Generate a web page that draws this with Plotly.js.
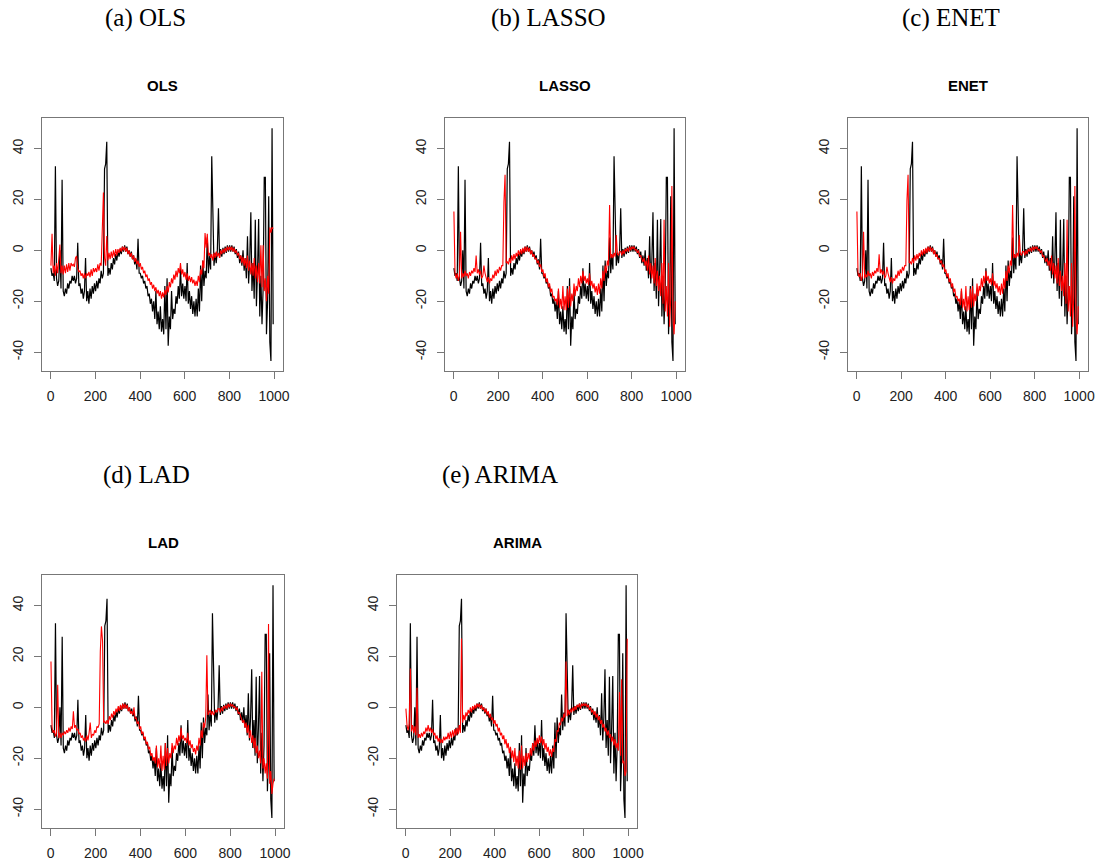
<!DOCTYPE html>
<html>
<head>
<meta charset="utf-8">
<script src="https://cdn.plot.ly/plotly-3.0.1.min.js"></script>
<style>html,body{margin:0;padding:0;background:#fff;}#chart{width:1099px;height:865px;}</style>
</head>
<body>
<div id="chart"></div>
<script>
// Observed series (black), sampled every 5 time steps starting at t = 1
const observed = [
  -7, -10, -9, -12, 33, -11, -14, -12, 0, -15,
  27.7, -16, -18, -15, -17, -13, -15, -12, -13, -10,
  -12, -10, -13, -11, 3, -14, -13, -17, -15, -19,
  -16, -3, -20, -16, -21, -15, -19, -14, -17, -13,
  -16, -12, -15, -11, -13, -8, -11, -9, 32, 34,
  42.7, -10, -7, -9.5, -5, -7.5, -3, -5.5, -1.5, -4,
  -0.5, -2.5, 0.5, -1.5, 1.5, -0.5, 2, -0.5, 1.5, -1.5,
  0, -2.5, -0.5, -3.5, -2, -5.5, -3.5, -7.5, 4.6, -9,
  -9, -11, -10, -13, -12, -15, -14, -18, -17, -21,
  -19, -24, -20, -27, -16, -29, -24, -31, -22, -32,
  -27, -33, -14, -31, -11, -37.5, -26, -31, -16, -27,
  -23, -25, -18, -21, -14, -19, -7, -18, -13, -19,
  -14, -20, -5, -21, -16, -23, -18, -25, -20, -26,
  -19, -26, -15, -24, -6, -20, -4, -14, -8, -11,
  5, -9, -2, -7.5, 37, 13.6, -6, -1, -5, 0,
  16.5, -3, 0.5, -2.5, 1, -1.5, 1.5, -1, 2, -0.5,
  2, -0.5, 2, -0.5, 1.5, -1.5, 0.5, -3, -0.5, -5,
  -2, -6, 0, -8, -3, -11, 5.5, -13, -4, 15,
  -16, -5, -19, 12, -22, -8, 12.3, -26, -10, -29,
  -15, 28.7, 28.7, -33, -20, 21.3, -36, -43.5, 48, -29
];

// Fitted series (red) per model, same sampling
const fitOLS = [
  -6, 6.5, -9, -6, -10, -5, -9, -4.5, 2.3, -9,
  -6, -9.5, -6, -9, -5.5, -8.5, -5, -8, -5, -6,
  -5.5, -6.5, -3, -2.2, -7, -8.5, -8, -10, -9, -11,
  -9, -11, -9, -10, -8.5, -10.5, -7.5, -10, -7, -8.5,
  -7, -8.5, -5.5, -8, -5, -6, 9, 22.7, -3, -6,
  5.6, -4, -1, -3.5, -0.5, -3, 0, -2.5, 0.5, -2,
  0.5, -1, 1, -0.5, 1.5, 0, 1.5, -0.5, 1, -1.5,
  0, -2.5, -1, -3.5, -2, -4.5, -3, -5.5, -4, -6.5,
  -5, -7.5, -6.5, -9, -8, -10.5, -9.5, -12, -11, -13.5,
  -12.5, -15, -13.5, -16, -14.5, -17, -15.5, -18, -16, -19,
  -16.5, -18.5, -15.5, -17.5, -14, -16.5, -12.5, -14.5, -11, -13,
  -9.5, -11.5, -8, -10.5, -7, -9, -5, -9.5, -7.5, -10.5,
  -8.5, -11.5, -9, -12, -10, -12.5, -10.5, -13, -11.5, -14,
  -12, -14, -10, -12.5, -7.5, -9.5, -4, -7, 6.8, 1,
  6.5, -2, -1, -3, -1.5, -4, -1, -3, -0.5, -2.5,
  -1, -3, 0, -1.5, 0.5, -1, 1, -0.5, 1.5, 0,
  1.5, 0, 1.5, -0.5, 1, -1, 0, -2, -1, -3.5,
  -2, -5, -2.5, -6, -3, -7, -2, -8, -4, -9.5,
  -5, -10, -3, -11, -6, -12.5, -5, -13, 2, -14.5,
  2, -16, -11, -20, -10, -17, 9, 7, 9, 8.5
];

const fitLASSO = [
  15.3, -9, -11, -9, -12, -10, 7.3, -11, -9, -10.5,
  -8, -10, -9, -11, -8.5, -10, -8, -9, -7, -8.5,
  -2, -9, -7.5, -9.5, -8, -11, -10, -6, -9, -11.5,
  -12.5, -10.5, -13, -11, -12, -9.5, -11, -8, -10, -7.5,
  -9, -6.5, -8, -6, -6, 19, 29.7, -5, -4.5, -5.5,
  -3, -5, -2, -4, -1.5, -3.5, -1, -2.5, 0, -2,
  0.5, -1.5, 1, -1, 1.5, -0.5, 1.5, -0.5, 1, -1.5,
  0, -2.5, -1.5, -3.5, -3, -5, -4, -6.5, -5.5, -8.5,
  -7.5, -10.5, -9, -12.5, -11, -14.5, -13, -16.5, -15, -18.5,
  -18, -20, -19, -21.5, -15, -22.5, -19, -23, -14, -23.5,
  -18, -23.5, -15, -22.5, -14, -22, -17, -20, -13, -18,
  -14, -16, -11, -14.5, -10, -13, -8, -12, -10, -13,
  -11, -13.5, -9, -14, -12, -15, -13, -16.5, -14, -17.5,
  -13, -17, -11, -15, -8, -12, -6, -9, -4, -6,
  17.8, -3, -1.5, -3, -1, -2.5, 6, -1.5, -2, -0.5,
  -0.5, -2, 0, -1.5, 0.5, -0.5, 1, -0.5, 1.5, 0,
  1.5, 0.5, 1.5, 0, 0.5, -1, 0, -2.5, -2, -3.5,
  -4.5, -3, -6, -4, -8, -2, -9.5, -5, -11, -6,
  -13, -3, -14, -8, -16, -10, -18, -5, -21, 12,
  -24, -14, -26, -5, -30, -18, 25.3, -27, -33, -20
];

const fitENET = [
  15.3, -9, -10.5, -9, -12, -10, 7.3, -11, -9.5, -10.5,
  -8, -10, -9, -11, -8.5, -10, -8, -9, -7, -8.5,
  -1.5, -9, -7.5, -9.5, -8, -11, -10, -6.5, -9, -11.5,
  -12.5, -10.5, -13, -11, -12, -9.5, -11, -8, -10, -7.5,
  -9, -6.5, -8, -6, -6, 19.5, 29.7, -5, -4.5, -5.5,
  -3, -5, -2, -4, -1.5, -3.5, -1, -2.5, 0, -2,
  0.5, -1.5, 1, -1, 1.5, -0.5, 1.5, -0.5, 1, -1.5,
  0, -2.5, -1.5, -3.5, -3, -5, -4, -6.5, -5.5, -8.5,
  -7.5, -10.5, -9, -12.5, -11, -14.5, -13, -16.5, -15, -18.5,
  -18, -20, -19, -21.5, -15, -22.5, -19, -23.5, -14, -24,
  -18, -23.5, -15, -22.5, -14, -22, -17, -20, -13, -18,
  -14, -16, -11, -14.5, -10, -13, -8, -12, -10, -13,
  -11, -13.5, -9, -14, -12, -15, -13, -16.5, -14, -17.5,
  -13, -17, -11, -15, -8, -12, -6, -9, -4, -6,
  17.8, -3, -1.5, -3, -1, -2.5, 6, -1.5, -2, -0.5,
  -0.5, -2, 0, -1.5, 0.5, -0.5, 1, -0.5, 1.5, 0,
  1.5, 0.5, 1.5, 0, 0.5, -1, 0, -2.5, -2, -3.5,
  -4.5, -3, -6, -4, -8, -2, -9.5, -5, -11, -6,
  -13, -3, -14, -8, -16, -10, -18, -5, -21, 12,
  -24, -14, -26, -5, -30, -18, 25.3, -27, -33, -22
];

const fitLAD = [
  18, -8, -10, -9, -11.5, -10, 8.9, -12, -10, -12,
  -10, -11, -9.5, -10.5, -9, -10, -8, -9.5, -7.5, -8.5,
  -1.5, -8, -7, -9, -8.5, -10.5, -10, -12, -11, -13,
  -12, -13.5, -11, -13, -10, -6, -12, -10.5, -11, -9,
  -10, -7.5, -8, -6.5, 22, 31.8, 26, -6, -5.5, -6.5,
  -5, -6.5, -3.5, -5, -2.5, -4, -1.5, -3, -0.5, -2,
  0.5, -1.5, 1, -1, 1.5, -0.5, 1.5, -0.5, 1, -1.5,
  0, -2.5, -1.5, -3, 0, -4.5, -4, -6.5, -5.5, -8.5,
  -7.5, -10.5, -9.5, -12.5, -11.5, -14.5, -13.5, -16.5, -15.5, -19,
  -18, -21, -19.5, -22, -15, -23.5, -20, -24, -15, -25,
  -19, -24.5, -14, -23, -16, -22, -18, -20, -14, -18,
  -15, -16.5, -12, -15, -11, -13.5, -8, -12.5, -11, -13,
  -12, -14, -10, -15, -13, -16, -14.5, -17.5, -16, -18.5,
  -15, -17, -12, -15, -9, -12, -6, -8, -4, 20.5,
  -3, -2, -1, -3, -1.5, -3, -2, -1, -2, -0.5,
  -0.5, -2, 0, -1.5, 0.5, -0.5, 1, -0.5, 1.5, 0,
  1.5, 0.5, 1, 0, 0.5, -1, 0, -2.5, -2, -3.5,
  -4, -6, -5, -8, -6, -10, -7, -12, -9, -14,
  -11, -16, -12, -18, -15, -20, -17, -22, 14, -24,
  -20, -26, -22, -28, 32.7, -30, -25, -34, -30, -28
];

const fitARIMA = [
  -0.5, -7, -9, -6.5, 15.3, -9.5, -7, -10, -7.5, -11,
  7.7, -12, -10.5, -12, -10, -11.5, -9.5, -10.5, -8, -9.5,
  -7, -9.5, -8, -10, -8.5, -11, -10, -12.5, -11, -13.5,
  -12, -14, -12.5, -14, -11.5, -13, -11.5, -12.5, -10, -12.5,
  -9.5, -12, -9, -11.5, -8.5, -11, -8, -10.5, -7, -10,
  27, -6, -3, -5, -2, -3.5, -1, -2.5, 0, -2,
  0.5, -1, 1, -0.5, 1.5, 0, 1.5, -0.5, 1, -1,
  0, -2, -0.5, -3, -1.5, -4, -2.5, -5, -4, -6.5,
  -5, -7.5, -6.5, -9.5, -8, -11, -10, -12.5, -11, -14.5,
  -12.5, -16, -14, -18, -15.5, -20, -17, -21.5, -16, -23,
  -19, -24, -17, -24.5, -15, -24, -19, -23, -18, -21.5,
  -18, -20.5, -16, -19, -14, -17, -13, -15.5, -12, -14.5,
  -11, -14, -11.5, -15, -12.5, -16.5, -14, -17.5, -15.5, -19,
  -16.5, -19.5, -16, -17.5, -12.5, -13.5, -9, -9.5, -6, -7,
  -4, -5.5, -2.5, -4, 18, -3.5, -1, -3, -0.5, -2,
  0, -1.5, 0.5, -1, 1, 0, 1.5, -0.5, 1.5, 0.5,
  1.5, 0.5, 1.5, 0, 1, -1, 0, -2, -1, -3,
  -1.5, -4, -2.5, -5, -3.5, -6.5, -5, -8, -6.5, -9.5,
  -8, -11, -9, -12, -10.5, -13.5, -11.5, -15, -12.5, -16,
  -14, -17, 6, -19, 11, -22, -21, -27, -25, 27
];

const panelNames = ["OLS", "LASSO", "ENET", "LAD", "ARIMA"];
const captions = ["(a) OLS", "(b) LASSO", "(c) ENET", "(d) LAD", "(e) ARIMA"];
const fits = [fitOLS, fitLASSO, fitENET, fitLAD, fitARIMA];
const xTicks = [0, 200, 400, 600, 800, 1000];
const yTicks = [-40, -20, 0, 20, 40];

// time index for the sampled points
const t = observed.map((_, i) => 1 + 5 * i);

// panel boxes in page pixels [left, right, top, bottom]
const W = 1099, H = 865;
const boxes = [
  [42, 283, 118, 371],
  [445, 685, 118, 371],
  [848, 1088, 118, 371],
  [42, 284, 575, 828],
  [397, 637, 575, 828]
];

const traces = [];
const layout = {
  width: W, height: H,
  margin: {l: 0, r: 0, t: 0, b: 0},
  paper_bgcolor: "#fff", plot_bgcolor: "#fff",
  showlegend: false,
  annotations: []
};

boxes.forEach((b, k) => {
  const n = k === 0 ? "" : String(k + 1);
  const xa = "x" + n, ya = "y" + n;
  traces.push({x: t, y: observed, xaxis: xa, yaxis: ya, type: "scatter", mode: "lines",
    line: {color: "#000", width: 1.2}, hoverinfo: "skip"});
  traces.push({x: t, y: fits[k], xaxis: xa, yaxis: ya, type: "scatter", mode: "lines",
    line: {color: "#ff0000", width: 1.1}, hoverinfo: "skip"});
  const axCommon = {
    showgrid: false, zeroline: false, showline: true, mirror: true,
    linecolor: "#777", linewidth: 1, ticks: "outside", ticklen: 7, tickwidth: 1,
    tickcolor: "#777", tickfont: {family: "Liberation Sans, Arial, sans-serif", size: 14, color: "#222"}
  };
  layout["xaxis" + n] = Object.assign({}, axCommon, {
    domain: [b[0] / W, b[1] / W], anchor: ya, range: [-39, 1040],
    tickmode: "array", tickvals: xTicks, ticktext: xTicks.map(String), ticklabelstandoff: 5
  });
  layout["yaxis" + n] = Object.assign({}, axCommon, {
    domain: [1 - b[3] / H, 1 - b[2] / H], anchor: xa, range: [-47.4, 52],
    tickmode: "array", tickvals: yTicks, ticktext: yTicks.map(String), tickangle: -90, ticklabelstandoff: 5
  });
  const cx = (b[0] + b[1]) / 2;
  const rowTop = k < 3 ? 0 : 457;
  layout.annotations.push({
    text: "<b>" + panelNames[k] + "</b>", xref: "paper", yref: "paper",
    x: cx / W, y: 1 - (rowTop + 85) / H, xanchor: "center", yanchor: "middle", showarrow: false,
    font: {family: "Liberation Sans, Arial, sans-serif", size: 15, color: "#000"}
  });
  layout.annotations.push({
    text: captions[k], xref: "paper", yref: "paper",
    x: (cx - 17) / W, y: 1 - (rowTop + 18) / H, xanchor: "center", yanchor: "middle", showarrow: false,
    font: {family: "Liberation Serif, Times New Roman, serif", size: 25, color: "#000"}
  });
});

Plotly.newPlot("chart", traces, layout, {staticPlot: true, displayModeBar: false});
</script>
</body>
</html>
